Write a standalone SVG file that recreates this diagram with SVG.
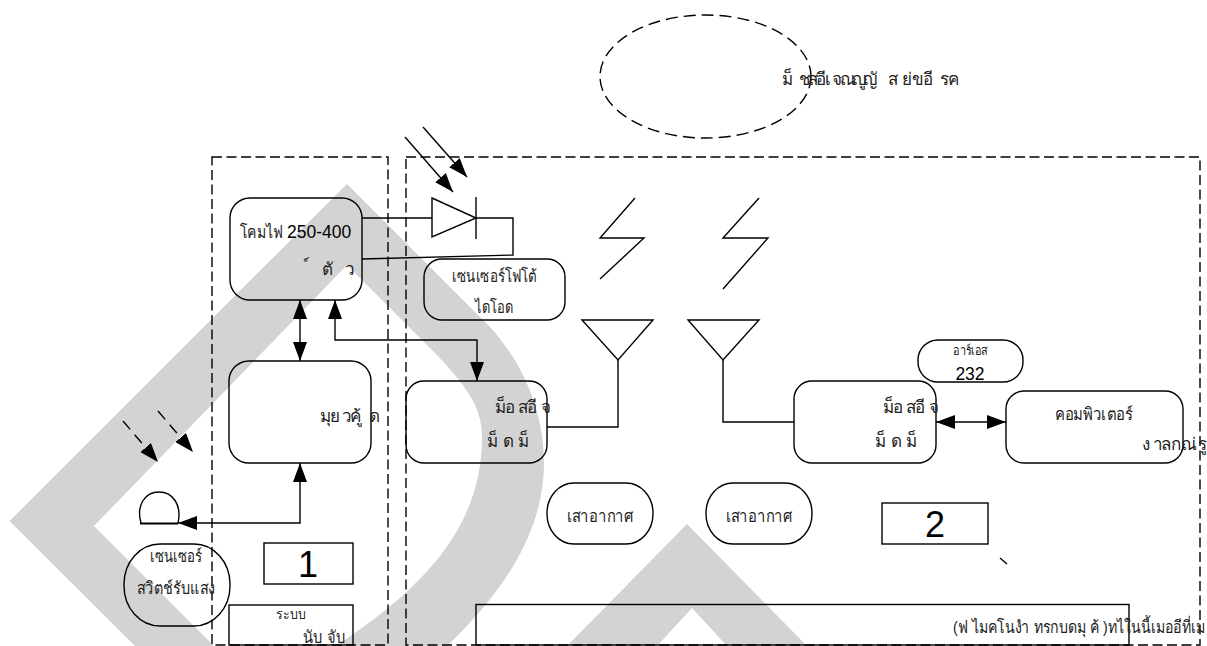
<svg xmlns="http://www.w3.org/2000/svg" width="1207" height="646" viewBox="0 0 1207 646">
<style>
.s{fill:none;stroke:#000;stroke-width:1.4}
.d{fill:none;stroke:#000;stroke-width:1.4;stroke-dasharray:10 4.500}
.e{fill:none;stroke:#000;stroke-width:1.4;stroke-dasharray:12 6}
.t{font-family:"Liberation Sans",sans-serif;font-size:17px;fill:#222}
.m{text-anchor:middle}
.n{font-family:"Liberation Sans",sans-serif;font-size:17.500px;fill:#000}
.b{font-family:"Liberation Sans",sans-serif;font-size:36px;fill:#000}
</style>
<defs>
<marker id="a" markerUnits="userSpaceOnUse" markerWidth="20" markerHeight="14" refX="19" refY="7" orient="auto-start-reverse"><path d="M0 0L19 7L0 14Z" fill="#000"/></marker>
</defs>
<rect width="1207" height="646" fill="#fff"/>
<g id="watermark" fill="#d3d3d3">
<path d="M347 184L490 327C525 365 544 415 544 463C544 535 500 595 447 646L336 646C420 590 482 530 482 437C482 405 465 382 415 333L347 265L94 526L214 646L135 646L9.500 521Z"/>
<path d="M687 524L807 646L727 646L692 608L657 646L567 646Z"/>
</g>
<g id="connectors">
<path class="s" d="M362 218H432M476 218H513V255L362 259"/>
<path class="s" d="M300 300V361" marker-start="url(#a)" marker-end="url(#a)"/>
<path class="s" d="M335 300V340H477V381" marker-start="url(#a)" marker-end="url(#a)"/>
<path class="s" d="M300 463V523H178" marker-start="url(#a)" marker-end="url(#a)"/>
<path class="s" d="M405 137L453 192" marker-end="url(#a)"/>
<path class="s" d="M423 127L467 177" marker-end="url(#a)"/>
<path class="s" stroke-dasharray="11 7" d="M123 421L158 462" marker-end="url(#a)"/>
<path class="s" stroke-dasharray="11 7" d="M158 411L193 452" marker-end="url(#a)"/>
<path class="s" d="M618 360V427H547"/>
<path class="s" d="M723 360V422H794"/>
<path class="s" d="M936 422H1006" marker-start="url(#a)" marker-end="url(#a)"/>
<path class="s" d="M1000 558L1007 564"/>
</g>
<g id="boundary-1"><path class="d" d="M212 157H388V645H212Z"/></g>
<g id="boundary-2"><path class="d" d="M406 157H1200V645H406Z"/></g>
<g id="cloud"><ellipse class="e" cx="705.500" cy="76.500" rx="105.500" ry="61.500"/>
<text class="t" y="85"><tspan x="782">ม็</tspan><tspan x="799">ช</tspan><tspan x="808">ส</tspan><tspan x="816">อี</tspan><tspan x="825">เ</tspan><tspan x="832">จ</tspan><tspan x="840">ณ</tspan><tspan x="852">ญู</tspan><tspan x="863">ญั</tspan><tspan x="888">ส</tspan><tspan x="902">ย่</tspan><tspan x="912">ข</tspan><tspan x="923">อี</tspan><tspan x="940">ร</tspan><tspan x="948">ค</tspan></text></g>
<g id="lamp"><rect class="s" x="230" y="198" width="132" height="102" rx="20"/>
<text class="t" x="240" y="238" textLength="43" lengthAdjust="spacingAndGlyphs">โคมไฟ</text><text class="n" x="287" y="238">250-400</text>
<text class="t" y="275"><tspan x="304">&#160;์</tspan><tspan x="322">ตั</tspan><tspan x="345">ว</tspan></text></g>
<g id="diode"><path class="s" d="M432 198L476 218L432 237Z"/><path class="s" d="M476 197V239"/></g>
<g id="photo-sensor"><rect class="s" x="424" y="259" width="141" height="61" rx="18"/>
<text class="t" x="452" y="282" textLength="85" lengthAdjust="spacingAndGlyphs">เซนเซอร์โฟโต้</text><text class="t" x="475" y="313" textLength="38" lengthAdjust="spacingAndGlyphs">ไดโอด</text></g>
<g id="lightning-1"><path class="s" d="M635 198L600 238H644L600 279"/></g>
<g id="lightning-2"><path class="s" d="M759 198L723 238H768L723 289"/></g>
<g id="antenna-1"><path class="s" d="M582 320H653L618 360Z"/></g>
<g id="antenna-2"><path class="s" d="M688 320H759L723 360Z"/></g>
<g id="controller"><rect class="s" x="229" y="361" width="142" height="102" rx="20"/>
<text class="t" y="422"><tspan x="320">มุ</tspan><tspan x="330">ย</tspan><tspan x="342">ว</tspan><tspan x="350">ค้</tspan><tspan x="363">ู</tspan><tspan x="369">ด</tspan></text></g>
<g id="modem-1"><rect class="s" x="406" y="381" width="141" height="82" rx="18"/>
<text class="t" y="413"><tspan x="495">ม็</tspan><tspan x="505">อ</tspan><tspan x="518">ส</tspan><tspan x="527">อี</tspan><tspan x="541">จ</tspan></text>
<text class="t" y="447"><tspan x="487">ม็</tspan><tspan x="503">ด</tspan><tspan x="518">ม็</tspan></text></g>
<g id="modem-2"><rect class="s" x="794" y="381" width="142" height="82" rx="18"/>
<text class="t" y="413"><tspan x="883">ม็</tspan><tspan x="893">อ</tspan><tspan x="906">ส</tspan><tspan x="915">อี</tspan><tspan x="929">จ</tspan></text>
<text class="t" y="447"><tspan x="875">ม็</tspan><tspan x="891">ด</tspan><tspan x="906">ม็</tspan></text></g>
<g id="computer"><rect class="s" x="1006" y="391" width="177" height="72" rx="18"/>
<text class="t" x="1055" y="420" textLength="78" lengthAdjust="spacingAndGlyphs">คอมพิวเตอร์</text>
<text class="t" y="450"><tspan x="1142">ง</tspan><tspan x="1153">า</tspan><tspan x="1161">ล</tspan><tspan x="1171">ก</tspan><tspan x="1181">ณ่</tspan><tspan x="1198">รู</tspan></text></g>
<g id="rs232"><rect class="s" x="918" y="340" width="105" height="42" rx="20"/>
<text class="t" style="font-size:13px" x="953" y="355" textLength="35" lengthAdjust="spacingAndGlyphs">อาร์เอส</text><text class="n m" x="970" y="380">232</text></g>
<g id="mast-1"><rect class="s" x="547" y="483" width="106" height="61" rx="27" ry="30"/><text class="t" x="566.500" y="522" textLength="67" lengthAdjust="spacingAndGlyphs">เสาอากาศ</text></g>
<g id="mast-2"><rect class="s" x="706" y="483" width="106" height="61" rx="27" ry="30"/><text class="t" x="725.500" y="522" textLength="67" lengthAdjust="spacingAndGlyphs">เสาอากาศ</text></g>
<g id="label-2"><rect class="s" x="882" y="503" width="106" height="41"/><text class="b m" x="935" y="537">2</text></g>
<g id="label-1"><rect class="s" x="264" y="543" width="89" height="41"/><text class="b m" x="308" y="577">1</text></g>
<g id="sensor"><path class="s" d="M141 523C136 505 145 492 159 492C173 492 182 505 178 523"/><path d="M140 523.500H178" stroke="#000" stroke-width="2"/></g>
<g id="switch"><rect class="s" x="124" y="544" width="106" height="82" rx="36" ry="40"/>
<text class="t" x="150" y="562" textLength="52" lengthAdjust="spacingAndGlyphs">เซนเซอร์</text><text class="t" x="137" y="594" textLength="78" lengthAdjust="spacingAndGlyphs">สวิตช์รับแสง</text></g>
<g id="system"><rect class="s" x="229" y="605" width="124" height="40"/>
<text class="t" style="font-size:14px" x="276" y="619" textLength="30" lengthAdjust="spacingAndGlyphs">ระบบ</text><text class="t" x="303" y="643" textLength="42" lengthAdjust="spacingAndGlyphs">นับ จับ</text></g>
<g id="note"><rect class="s" x="476" y="604.500" width="653" height="40.500"/>
<text class="t" x="953" y="633" textLength="252" lengthAdjust="spacingAndGlyphs">(ฟ ไมคโนงำ ทรกบดมุ ค้ )ทไในนี้เมออีที่เม</text></g>
</svg>
